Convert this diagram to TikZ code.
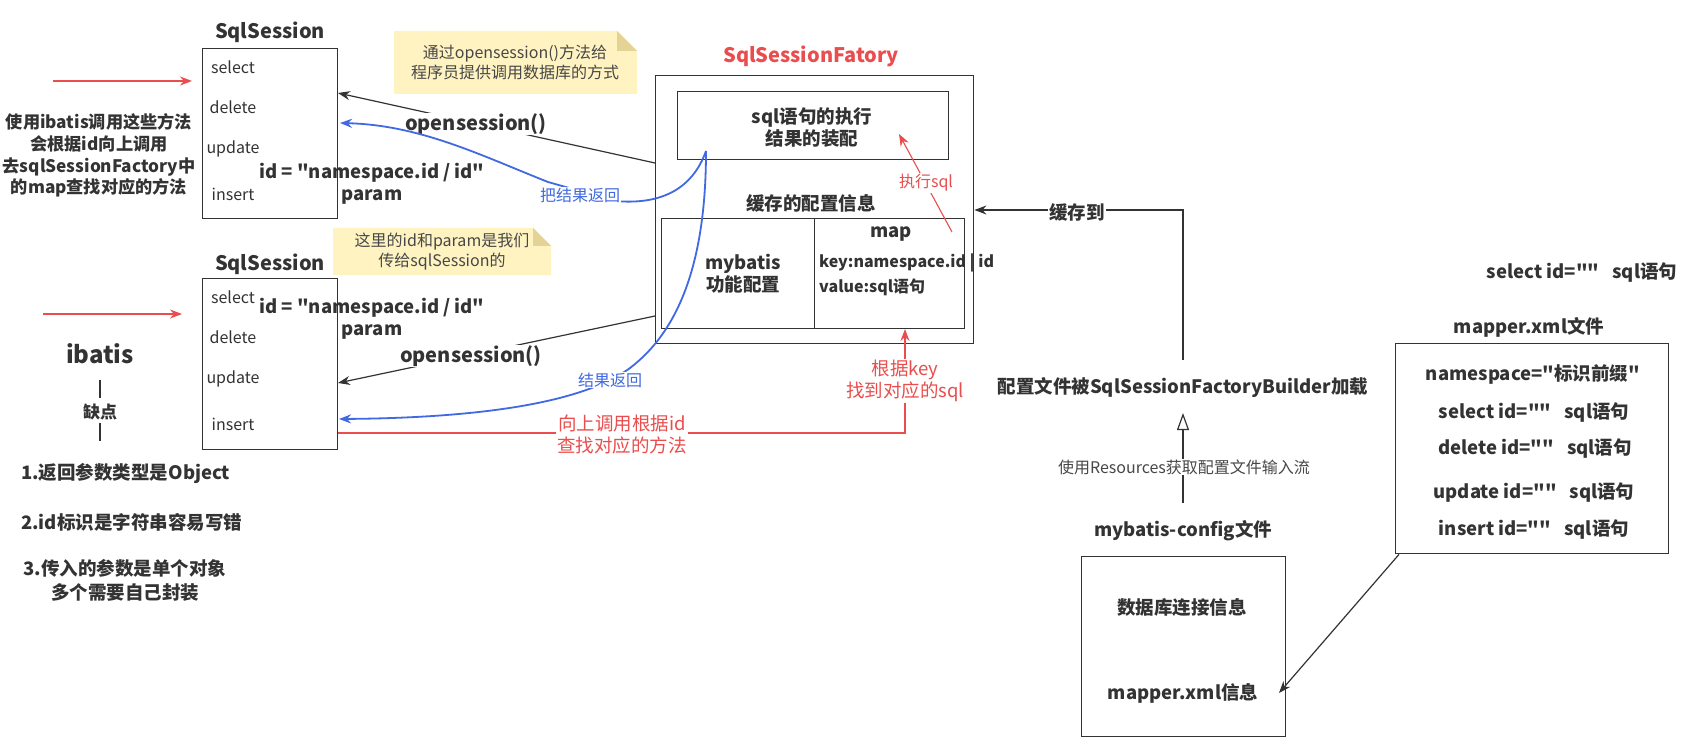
\documentclass[tikz,border=0pt]{standalone}
\usepackage{fontspec}
\setmainfont{Noto Sans CJK SC}
\newfontfamily\nf{Noto Sans CJK SC}
\usetikzlibrary{arrows.meta,calc}
\definecolor{ink}{HTML}{333333}
\definecolor{rd}{HTML}{EA4D4D}
\definecolor{bl}{HTML}{4169E1}
\definecolor{noteY}{HTML}{FFF3C2}
\definecolor{noteF}{HTML}{E3D394}
\newcommand\gapq{\hspace{13pt}}
\tikzset{
 R/.style={font=\nf\fontsize{16}{20}\selectfont, text=ink, inner sep=1pt},
 B/.style={font=\nf\fontsize{18.5}{22}\selectfont\bfseries, text=ink, inner sep=1pt},
 T/.style={font=\nf\fontsize{20}{24}\selectfont\bfseries, text=ink, inner sep=1pt},
 K/.style={font=\nf\fontsize{16}{24}\selectfont\bfseries, text=ink, inner sep=1pt},
 RL/.style={font=\nf\fontsize{18.5}{22.5}\selectfont, text=rd, inner sep=1pt},
 box/.style={draw=ink, line width=1.4pt, inner sep=0pt, anchor=north west},
 arr/.style={draw=ink, line width=1.2pt, -{Stealth[length=12pt,width=9pt]}},
 rarr/.style={draw=rd, line width=1.3pt, -{Stealth[length=12pt,width=9pt]}},
 barr/.style={draw=bl, line width=1.8pt, -{Stealth[length=12pt,width=9pt]}},
 wbg/.style={fill=white},
}
\begin{document}
\begin{tikzpicture}[x=1pt,y=-1pt]
\useasboundingbox[fill=white] (0,0) rectangle (1704,743);

% ---------- notes ----------
\fill[noteY] (394,31) -- (617,31) -- (637,51) -- (637,94) -- (394,94) -- cycle;
\fill[noteF] (617,31) -- (637,51) -- (617,51) -- cycle;
\node[R, align=center, text=ink!90] (n1) at (515,62.5) {通过opensession()方法给\\程序员提供调用数据库的方式};
\fill[noteY] (333,228) -- (533,228) -- (551,246) -- (551,275) -- (333,275) -- cycle;
\fill[noteF] (533,228) -- (551,246) -- (533,246) -- cycle;
\node[R, align=center, text=ink!90] (n2) at (442,252) {这里的id和param是我们\\传给sqlSession的};

% ---------- SqlSession 1 ----------
\node[T] (t1) at (270,32) {SqlSession};
\node[box, minimum width=135, minimum height=170] (s1) at (202,48) {};
\node[R] (s1a) at (233,67) {select};
\node[R] (s1b) at (233,107) {delete};
\node[R] (s1c) at (233,149) {update};
\node[R] (s1d) at (233,194) {insert};
\node[B, align=center] (p1) at (372,184) {id = "namespace.id / id"\\param};

% ---------- SqlSession 2 ----------
\node[T] (t2) at (270,264) {SqlSession};
\node[box, minimum width=135, minimum height=171] (s2) at (202,278) {};
\node[R] (s2a) at (233,297) {select};
\node[R] (s2b) at (233,337) {delete};
\node[R] (s2c) at (233,379) {update};
\node[R] (s2d) at (233,424) {insert};
\node[B, align=center] (p2) at (372,319) {id = "namespace.id / id"\\param};

% ---------- left texts ----------
\node[B, align=center, font=\nf\fontsize{17.2}{21.7}\selectfont\bfseries] (lt) at (99,155.5) {使用ibatis调用这些方法\\会根据id向上调用\\去sqlSessionFactory中\\的map查找对应的方法};
\coordinate (ra1) at (53,81);
\coordinate (rb1) at (192,81);
\draw[rarr] (ra1) -- (rb1);
\coordinate (ra2) at (43,314);
\coordinate (rb2) at (182,314);
\draw[rarr] (ra2) -- (rb2);
\node[font=\nf\fontsize{24}{28}\selectfont\bfseries, text=ink, inner sep=1pt] (ib) at (100,354) {ibatis};
\node[B, font=\nf\fontsize{17}{20}\selectfont\bfseries] (qd) at (100,412) {缺点};
\coordinate (qe) at (100,441);
\draw[ink, line width=1.2pt] ($(ib.center)+(0,26)$) -- ($(qd.center)+(0,-14)$);
\draw[ink, line width=1.2pt] ($(qd.center)+(0,11)$) -- (qe);
\node[B, anchor=west] (c1) at (20,473) {1.返回参数类型是Object};
\node[B, anchor=west] (c2) at (20,522) {2.id标识是字符串容易写错};
\node[B, align=center, font=\nf\fontsize{18.5}{24}\selectfont\bfseries] (c3) at (125,580) {3.传入的参数是单个对象\\多个需要自己封装};

% ---------- SqlSessionFatory ----------
\node[T, text=rd] (tf) at (811,56) {SqlSessionFatory};
\node[box, minimum width=318, minimum height=268] (f) at (655,75) {};
\node[box, minimum width=271, minimum height=68] (fx) at (677,91) {};
\node[B, align=center] (fxt) at (812,128) {sql语句的执行\\结果的装配};
\node[B] (fc) at (811,203) {缓存的配置信息};
\node[box, minimum width=153, minimum height=110] (fm) at (661,218) {};
\node[box, minimum width=150, minimum height=110] (fp) at (814,218) {};
\node[B, align=center] (fmt) at (743,274) {mybatis\\功能配置};
\node[B] (mp) at (891,234) {map};
\node[K, anchor=west] (mk) at (818,263) {key:namespace.id | id};
\node[K, anchor=west] (mv) at (818,287) {value:sql语句};

% exec sql arrow
\coordinate (ex0) at (952,232);
\coordinate (ex1) at (899,134);
\draw[rarr, line width=1.1pt] (ex0) -- (ex1);
\node[R, text=rd, wbg] (exl) at (926,183) {执行sql};

% opensession arrows
\coordinate (o1) at (338,93);
\coordinate (o1s) at (655,163);
\draw[arr] (o1s) -- (o1);
\node[T, wbg] (o1l) at (476,124) {opensession()};
\coordinate (o2) at (338,383);
\coordinate (o2s) at (655,316);
\draw[arr] (o2s) -- (o2);
\node[T, wbg] (o2l) at (471,356) {opensession()};

% blue return curves
\coordinate (bs) at (706,151);
\coordinate (be1) at (340,123);
\coordinate (be2) at (339,419);
\draw[barr] (bs) .. controls (692,190) and (660,205) .. (615,201) -- (548,182) .. controls (480,155) and (420,125) .. (be1);
\node[R, text=bl, wbg] (bl1) at (580,195) {把结果返回};
\draw[barr] (bs) .. controls (706,260) and (680,330) .. (630,368) .. controls (580,405) and (470,418) .. (be2);
\node[R, text=bl, wbg] (bl2) at (610,380) {结果返回};

% red call line
\coordinate (rs) at (338,433);
\coordinate (rc) at (905,433);
\coordinate (re) at (905,329);
\draw[rarr] (rs) -- (rc) -- (re);
\node[RL, align=center, wbg] (rl1) at (622,434.5) {向上调用根据id\\查找对应的方法};
\node[RL, align=center, wbg] (rl2) at (905,381) {根据key\\找到对应的sql};

% ---------- right side ----------
\node[B] (ld) at (1183,387) {配置文件被SqlSessionFactoryBuilder加载};
\coordinate (cc) at (1183,210);
\draw[arr] ($(ld.center)+(0,-27)$) -- (cc) -- (f.east |- cc);
\node[B, wbg] (cl) at (1077,212) {缓存到};
\node[B] (mc) at (1183,531) {mybatis-config文件};
\draw[ink, line width=1.2pt, -{Triangle[open, length=17pt, width=12pt]}] ($(mc.center)+(0,-28)$) -- ($(ld.center)+(0,26)$);
\node[R, wbg, text=ink!90] (rsl) at (1184,467) {使用Resources获取配置文件输入流};
\node[box, minimum width=204, minimum height=180] (cb) at (1081,556) {};
\node[B] (cb1) at (1182,607) {数据库连接信息};
\node[B] (cb2) at (1183,693) {mapper.xml信息};

\node[B] (sx) at (1582,273) {select id=""\gapq sql语句};
\node[B] (mt) at (1529,327) {mapper.xml文件};
\node[box, minimum width=273, minimum height=210] (mb) at (1395,343) {};
\node[B] (m1) at (1533,374) {namespace="标识前缀"};
\node[B] (m2) at (1534,413) {select id=""\gapq sql语句};
\node[B] (m3) at (1535,449) {delete id=""\gapq sql语句};
\node[B] (m4) at (1534,493) {update id=""\gapq sql语句};
\node[B] (m5) at (1534,530) {insert id=""\gapq sql语句};
\draw[arr] ($(mb.south west)+(4,0)$) -- (cb2.east -| 1279,0);
\end{tikzpicture}
\end{document}
